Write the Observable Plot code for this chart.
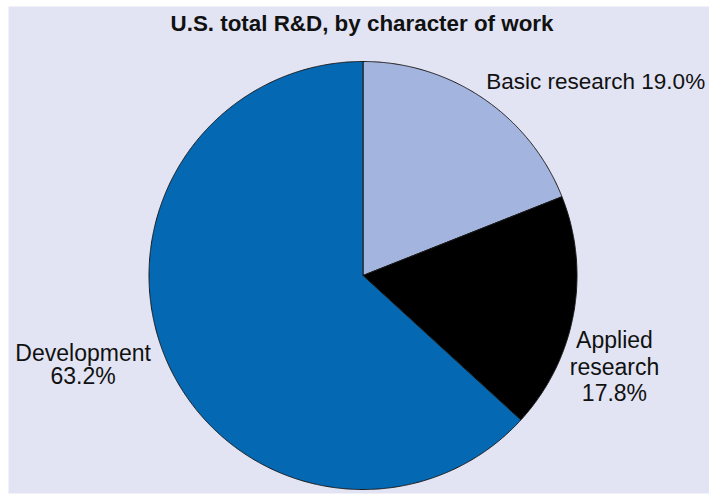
<!DOCTYPE html>
<html>
<head>
<meta charset="utf-8">
<script src="https://cdn.jsdelivr.net/npm/d3@7"></script>
<script src="https://cdn.jsdelivr.net/npm/@observablehq/plot@0.6"></script>
<style>
  html, body { margin: 0; padding: 0; background: #ffffff; }
  #chart svg { display: block; }
</style>
</head>
<body>
<div id="chart"></div>
<script>
// Share of U.S. total R&D by character of work (percent)
const categories = ["Basic research", "Applied research", "Development"];
const shares = [19.0, 17.8, 63.2];
const labelTexts = ["Basic research 19.0%", "Applied\nresearch\n17.8%", "Development\n63.2%"];
const sliceColors = ["#a3b4de", "#000000", "#0568b3"];
const title = "U.S. total R&D, by character of work";

// Layout (pixels)
const W = 709, H = 499;
const M = {left: 8, right: 0, top: 6, bottom: 6};
const R = 214, CX = 362.5, CY = 275;

// Slice angles: start at 12 o'clock, clockwise
const arcs = d3.pie().sort(null).value(d => d)(shares);

// Each slice as a closed polygon in unit-circle coordinates
const slicePoints = arcs.flatMap((a, i) => {
  const key = categories[i];
  const n = Math.max(8, Math.ceil((a.endAngle - a.startAngle) / 0.005));
  const pts = [{key, x: 0, y: 0}];
  for (let k = 0; k <= n; ++k) {
    const t = a.startAngle + (a.endAngle - a.startAngle) * k / n;
    pts.push({key, x: Math.sin(t), y: Math.cos(t)});
  }
  pts.push({key, x: 0, y: 0});
  return pts;
});

// Labels anchored at the slice's mid-angle on the rim, nudged outward
const labelOffsets = [
  {dx: 3, dy: -17, anchor: "start", lh: 1.1, size: 22.5},
  {dx: 41, dy: 52, anchor: "middle", lh: 1.15, size: 23},
  {dx: -84, dy: 3, anchor: "middle", lh: 1.02, size: 23}
];
const labelData = arcs.map((a, i) => {
  const m = (a.startAngle + a.endAngle) / 2;
  return {text: labelTexts[i], x: Math.sin(m), y: Math.cos(m), ...labelOffsets[i]};
});

const textMarks = labelData.map(d => Plot.text([d], {
  x: "x", y: "y", text: "text",
  dx: d.dx, dy: d.dy, textAnchor: d.anchor,
  fontSize: d.size, lineHeight: d.lh, fill: "#111111"
}));

const chart = Plot.plot({
  width: W, height: H,
  marginLeft: M.left, marginRight: M.right, marginTop: M.top, marginBottom: M.bottom,
  style: {background: "#ffffff", fontFamily: "'Liberation Sans', Arial, Helvetica, sans-serif"},
  x: {domain: [-(CX - M.left) / R, (W - M.right - CX) / R], axis: null},
  y: {domain: [-(H - M.bottom - CY) / R, (CY - M.top) / R], axis: null},
  color: {domain: categories, range: sliceColors},
  marks: [
    Plot.frame({fill: "#e2e4f3", stroke: "none"}),
    Plot.line(slicePoints, {
      x: "x", y: "y", z: "key", fill: "key",
      stroke: "#1a1a1a", strokeWidth: 1, strokeLinejoin: "round", curve: "linear"
    }),
    ...textMarks,
    Plot.text([title], {
      frameAnchor: "top", lineAnchor: "middle", dx: 3, dy: 17,
      fontSize: 22, fontWeight: "bold", fill: "#111111",
      className: "chart-title"
    })
  ]
});

// Condensed title face: fit the bold title to its set width
const titleText = chart.querySelector(".chart-title text");
if (titleText) {
  titleText.setAttribute("textLength", 383);
  titleText.setAttribute("lengthAdjust", "spacingAndGlyphs");
}

document.getElementById("chart").append(chart);
</script>
</body>
</html>
